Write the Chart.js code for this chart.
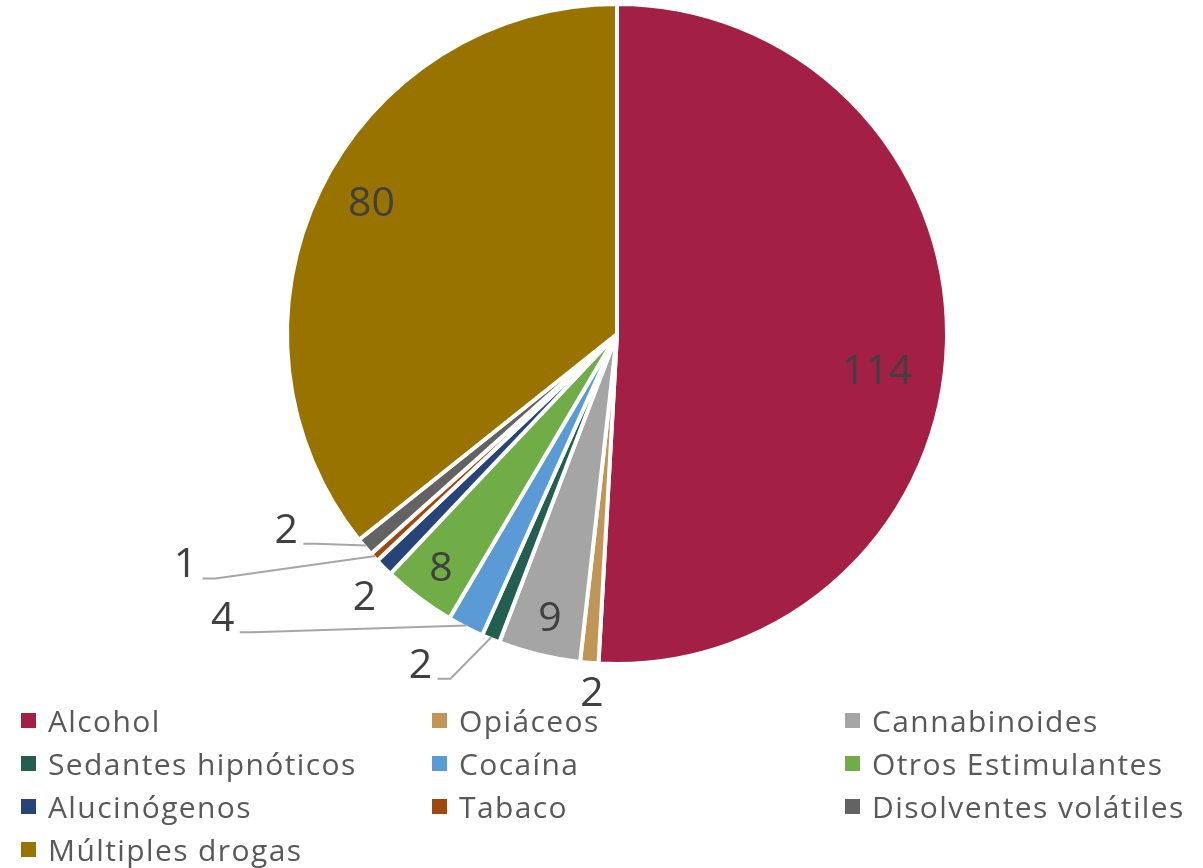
<!DOCTYPE html>
<html>
<head>
<meta charset="utf-8">
<script src="https://cdn.jsdelivr.net/npm/chart.js@4.4.0/dist/chart.umd.min.js"></script>
<style>
  body { margin: 0; background: #fff; }
  .wrap { position: relative; width: 1203px; height: 868px; }
  #legend {
    position: absolute; left: 21px; top: 699px;
    display: grid; grid-template-columns: 411px 413px 350px;
    font-family: 'Open Sans', sans-serif; font-size: 30px; letter-spacing: 1.4px; color: #595959;
  }
  #legend .item { height: 43px; display: flex; align-items: center; white-space: nowrap; }
  #legend .box { width: 15px; height: 15px; margin-right: 12px; flex: none; }
</style>
</head>
<body>
<div class="wrap">
  <canvas id="pie" width="1203" height="868"></canvas>
  <div id="legend"></div>
</div>
<script>
const categories = ['Alcohol', 'Opiáceos', 'Cannabinoides', 'Sedantes hipnóticos', 'Cocaína',
  'Otros Estimulantes', 'Alucinógenos', 'Tabaco', 'Disolventes volátiles', 'Múltiples drogas']
const values = [114, 2, 9, 2, 4, 8, 2, 1, 2, 80]
const colors = ['#A31F46', '#C09556', '#A5A5A5', '#225F50', '#5B9BD5',
  '#70AD47', '#264478', '#9E480E', '#636363', '#997300']

// where each value label sits: angle from 12 o'clock (deg, clockwise), distance as share of radius
const labelAngle = [97.9, 184.0, 193.3, 210.8, 234.3, 217.1, 223.9, 242.0, 239.5, 298.3]
const labelDist = [0.80, 1.094, 0.887, 1.17, 1.48, 0.89, 1.11, 1.49, 1.17, 0.85]
const hasLeader = [false, false, false, true, true, false, false, true, true, false]

const borderW = 4

const pieLabels = {
    id: 'pieLabels',
    afterDatasetsDraw(chart) {
        let ctx = chart.ctx
        let meta = chart.getDatasetMeta(0)
        meta.data.forEach((arc, i) => {
            let p = arc.getProps(['x', 'y', 'outerRadius', 'startAngle', 'endAngle'], true)
            let r = p.outerRadius - borderW / 2
            let a = labelAngle[i] * Math.PI / 180 - Math.PI / 2
            let lx = p.x + Math.cos(a) * r * labelDist[i]
            let ly = p.y + Math.sin(a) * r * labelDist[i]
            if (hasLeader[i]) {
                let m = (p.startAngle + p.endAngle) / 2
                ctx.save()
                ctx.strokeStyle = '#A6A6A6'
                ctx.lineWidth = 2
                ctx.beginPath()
                ctx.moveTo(p.x + Math.cos(m) * r, p.y + Math.sin(m) * r)
                ctx.lineTo(lx + 30, ly + 15)
                ctx.lineTo(lx + 17, ly + 15)
                ctx.stroke()
                ctx.restore()
            }
            ctx.save()
            ctx.font = '41px "Open Sans"'
            ctx.fillStyle = '#404040'
            ctx.textAlign = 'center'
            ctx.textBaseline = 'alphabetic'
            ctx.fillText(String(values[i]), lx, ly + 14)
            ctx.restore()
        })
    }
}

const chart = new Chart(document.getElementById('pie'), {
    type: 'pie',
    data: {
        labels: categories,
        datasets: [{
            data: values,
            backgroundColor: colors,
            borderColor: '#ffffff',
            borderWidth: borderW
        }]
    },
    options: {
        responsive: false,
        animation: false,
        layout: { padding: { top: 2, bottom: 202, left: 31, right: 0 } },
        plugins: {
            legend: { display: false },
            tooltip: { enabled: false }
        }
    },
    plugins: [pieLabels]
})

// legend in three columns, built from the chart's own legend items
let legendEl = document.getElementById('legend')
chart.options.plugins.legend.labels.generateLabels(chart).forEach(item => {
    let div = document.createElement('div')
    div.className = 'item'
    let box = document.createElement('span')
    box.className = 'box'
    box.style.background = item.fillStyle
    div.appendChild(box)
    div.appendChild(document.createTextNode(item.text))
    legendEl.appendChild(div)
})
</script>
</body>
</html>
